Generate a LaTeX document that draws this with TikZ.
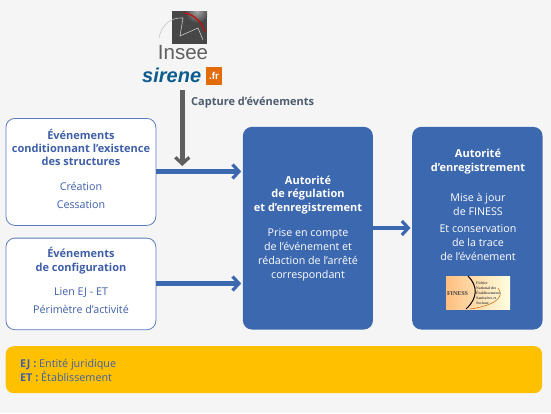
\documentclass[tikz,border=0pt]{standalone}
\usepackage{fontspec}
\setmainfont{Open Sans}
\newfontfamily\logoserif{Liberation Serif}
\newfontfamily\logosans{Liberation Sans}
\usetikzlibrary{arrows.meta,positioning}
\definecolor{bg}{HTML}{F5F5F5}
\definecolor{blue1}{HTML}{3C68B0}
\definecolor{edgeb}{HTML}{5A7DBE}
\definecolor{txtb}{HTML}{3F5FA8}
\definecolor{gray1}{HTML}{5F5F5F}
\definecolor{yel}{HTML}{FFC000}
\definecolor{sirene}{HTML}{0B5C8C}
\definecolor{frbox}{HTML}{E36C0A}
\definecolor{capt}{HTML}{4F5B6E}
\newcommand{\sq}{\char"27 }
\tikzset{x=1pt,y=-1pt,
 whitebox/.style={draw=edgeb,line width=.8pt,fill=white,rounded corners=9pt,anchor=north west},
 bluebox/.style={fill=blue1,rounded corners=9pt,anchor=north west},
 txt/.style={align=center,text=txtb,inner sep=0},
 regfont/.style={font=\fontsize{10.7pt}{18pt}\selectfont},
 boldb/.style={font=\bfseries\fontsize{11pt}{13.4pt}\selectfont},
 wtxt/.style={align=center,font=\fontsize{10.7pt}{14pt}\selectfont,text=white,inner sep=0},
 bigarrow/.style={blue1,line width=4.6pt,-{Straight Barb[length=6.5pt,width=14pt,line width=3.2pt]}},
 grayarrow/.style={gray1,line width=4.8pt,-{Straight Barb[length=6.5pt,width=14pt,line width=3.2pt]}}
}
\begin{document}
\begin{tikzpicture}
\useasboundingbox (0,0) rectangle (551,413);
\fill[bg] (0,0) rectangle (551,413);
% boxes
\node[whitebox,minimum width=150pt,minimum height=107pt] (b1) at (5.5,118) {};
\node[whitebox,minimum width=150pt,minimum height=91.6pt] (b2) at (5.5,237.7) {};
\node[bluebox,minimum width=130pt,minimum height=202.6pt] (b3) at (242.7,126.7) {};
\node[bluebox,minimum width=130.3pt,minimum height=202.6pt] (b4) at (412,126.7) {};
\node[fill=yel,rounded corners=8pt,anchor=north west,minimum width=536.5pt,minimum height=47pt] (b5) at (5.5,346) {};
% connector anchors
\coordinate (h1) at (0,171.5);
\coordinate (h2) at (0,283.5);
\coordinate (h3) at (0,228);
\coordinate (a1) at (b1.east|-h1);
\coordinate (a1e) at ([xshift=-1.5pt]b3.west|-h1);
\coordinate (a2) at (b2.east|-h2);
\coordinate (a2e) at ([xshift=-1.5pt]b3.west|-h2);
\coordinate (a3) at (b3.east|-h3);
\coordinate (a3e) at ([xshift=-1.5pt]b4.west|-h3);
\coordinate (g1) at (182.3,90);
\coordinate (g2) at (182.3,166);
\draw[grayarrow] (g1) -- (g2);
\draw[bigarrow] (a1) -- (a1e);
\draw[bigarrow] (a2) -- (a2e);
\draw[bigarrow] (a3) -- (a3e);
% texts
\node[txt,boldb] (t1) at (81,147.5) {Événements\\conditionnant l’existence\\des structures};
\node[txt,regfont] (t2) at (81,195) {Création\\Cessation};
\node[txt,boldb] (t3) at (81,260.5) {Événements\\de configuration};
\node[txt,regfont] (t4) at (81,300.5) {Lien EJ - ET\\Périmètre d’activité};
\node[wtxt,font=\bfseries\fontsize{11pt}{13.6pt}\selectfont] (t5) at (308,195) {Autorité\\de régulation\\et d’enregistrement};
\node[wtxt] (t6) at (308,254.5) {Prise en compte\\de l\sq événement et\\rédaction de l\sq arrêté\\correspondant};
\node[wtxt,font=\bfseries\fontsize{11pt}{14pt}\selectfont] (t7) at (478,161.5) {Autorité\\d’enregistrement};
\node[wtxt] (t8) at (478,204) {Mise à jour\\de FINESS};
\node[wtxt] (t9) at (478,243) {Et conservation\\de la trace\\de l\sq événement};
\node[txt,text=capt,font=\bfseries\fontsize{11pt}{12pt}\selectfont,anchor=west] (t10) at (191,103) {Capture d’événements};
\node[txt,anchor=west,align=left,font=\fontsize{10.8pt}{14pt}\selectfont] (t11) at (20,370) {\textbf{EJ :} Entité juridique\\\textbf{ET :} Établissement};
% Insee logo
\fill[gray!30!black!85] (172,11) rectangle (207,44);
\begin{scope}
\clip (172,11) rectangle (207,44);
\shade[inner color=gray!70,outer color=gray!30!black!85] (197,11) circle (12pt);
\end{scope}
\draw[red!85!black,line width=1pt] (184,13) .. controls (194,14) and (202,22) .. (205,32);
\draw[gray!45,line width=.6pt] (159,38) .. controls (161,26) and (170,17) .. (183,18) -- (180,36) -- (198,28) -- (203,40);
\node[inner sep=0,font=\logosans\fontsize{20.5pt}{20pt}\selectfont,text=gray1] (ins) at (183,52.5) {Insee};
\node[inner sep=0,font=\logosans\bfseries\itshape\fontsize{20pt}{20pt}\selectfont,text=sirene,anchor=west] (sir) at (142,75) {sirene};
\node[fill=frbox,text=white,font=\logosans\bfseries\fontsize{10pt}{10pt}\selectfont,inner sep=0,minimum width=16pt,minimum height=18pt] (fr) at (214,76) {.fr};
% FINESS logo
\shade[left color=orange!50!white,right color=yellow!12!white] (446,276) rectangle (510,309);
\draw[black,line width=1pt] (468,276) .. controls (478,286) and (478,298) .. (466,309);
\draw[orange!80!black,line width=.5pt] (498,288) .. controls (506,298) and (492,306) .. (470,309);
\node[inner sep=0,font=\logoserif\bfseries\fontsize{6pt}{6pt}\selectfont,text=black!75] (fin) at (457.5,293.5) {FINESS};
\node[inner sep=0,align=left,anchor=west,font=\logoserif\bfseries\fontsize{3.8pt}{5pt}\selectfont,text=black!70] (fin2) at (476,293.5) {Fichier\\National des\\Établissements\\Sanitaires et\\Sociaux};
\end{tikzpicture}
\end{document}
